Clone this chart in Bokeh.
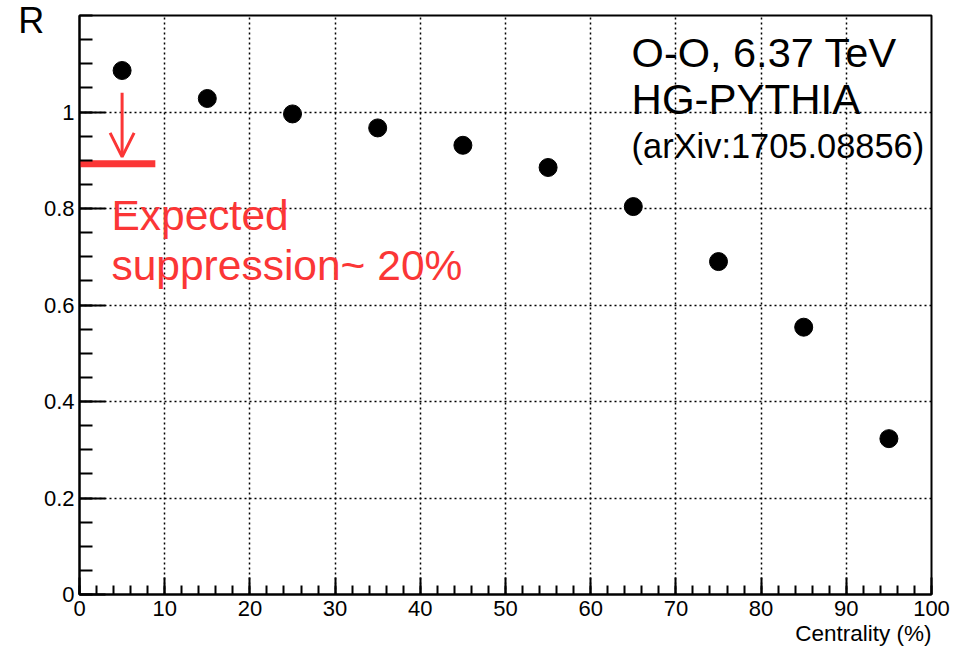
from bokeh.plotting import figure
from bokeh.models import FixedTicker, Label, Arrow, OpenHead, Title
from bokeh.embed import file_html
from bokeh.resources import INLINE

# Nuclear modification factor vs centrality
centrality = [5, 15, 25, 35, 45, 55, 65, 75, 85, 95]
r_values = [1.086, 1.028, 0.996, 0.967, 0.931, 0.885, 0.804, 0.690, 0.554, 0.323]

# Expected suppression level (bar) and arrow from the most central bin
expected_level = 0.893
expected_bar_x = [0, 8.9]
arrow_x = 5
arrow_from = 1.04
arrow_to = 0.907

x_major = [0, 10, 20, 30, 40, 50, 60, 70, 80, 90, 100]
x_minor = [i * 2 for i in range(51)]
y_major = [0, 0.2, 0.4, 0.6, 0.8, 1.0]
y_major_labels = ["0", "0.2", "0.4", "0.6", "0.8", "1"]
y_minor = [round(i * 0.05, 2) for i in range(25)]

FONT = "Liberation Sans"
RED = "#fb3636"

p = figure(width=968, height=649, x_range=(0, 100), y_range=(0, 1.2),
           output_backend="svg", toolbar_location=None,
           min_border_left=79, min_border_right=37,
           min_border_top=15, min_border_bottom=55)
p.background_fill_color = "white"
p.border_fill_color = "white"
p.outline_line_color = "black"
p.outline_line_width = 2

p.xaxis.ticker = FixedTicker(ticks=x_major, minor_ticks=x_minor)
p.yaxis.ticker = FixedTicker(ticks=y_major, minor_ticks=y_minor)
p.yaxis.major_label_overrides = dict(zip(y_major, y_major_labels))

for ax in (p.xaxis, p.yaxis):
    ax.axis_line_width = 2
    ax.axis_line_color = "black"
    ax.major_tick_out = 0
    ax.minor_tick_out = 0
    ax.major_tick_line_width = 2
    ax.minor_tick_line_width = 2
    ax.major_tick_line_color = "black"
    ax.minor_tick_line_color = "black"
    ax.major_label_text_font = FONT
    ax.major_label_text_font_size = "22px"
    ax.major_label_text_color = "black"

p.xaxis.major_tick_in = 17
p.xaxis.minor_tick_in = 9
p.xaxis.major_label_standoff = 6

p.yaxis.major_tick_in = 26
p.yaxis.minor_tick_in = 13
p.yaxis.major_label_standoff = 5

# x title, right-aligned under the end of the axis
p.add_layout(Title(text="Centrality (%)", align="right", text_font=FONT,
                   text_font_size="22.5px", text_font_style="normal",
                   text_color="black", standoff=0, offset=0), "below")

# y title in the left margin, beside the top of the axis
p.add_layout(Label(x=-7.2, y=1.19, text="R", text_font=FONT,
                   text_font_size="36px", text_color="black",
                   text_baseline="alphabetic"), "left")

for g in (p.xgrid, p.ygrid):
    g.grid_line_color = "black"
    g.grid_line_dash = "2 3"
    g.grid_line_width = 1.5

p.scatter(centrality, r_values, size=18, color="black")

p.segment(x0=[expected_bar_x[0]], y0=[expected_level],
          x1=[expected_bar_x[1]], y1=[expected_level],
          line_width=7, line_color=RED)
p.add_layout(Arrow(end=OpenHead(size=24, line_color=RED, line_width=3),
                   x_start=arrow_x, y_start=arrow_from,
                   x_end=arrow_x, y_end=arrow_to,
                   line_color=RED, line_width=3))

def label(x, y, text, size, color="black", align="left"):
    p.add_layout(Label(x=x, y=y, text=text, text_font=FONT,
                       text_font_size=size, text_color=color,
                       text_align=align, text_baseline="alphabetic"))

label(3.75, 0.786, "Expected", "42.5px", RED)
label(3.75, 0.681, "suppression~ 20%", "42.5px", RED)

label(64.8, 1.123, "O-O, 6.37 TeV", "41.5px")
label(64.8, 1.026, "HG-PYTHIA", "42px")
label(64.8, 0.929, "(arXiv:1705.08856)", "34.4px")

open("out.html", "w").write(file_html(p, INLINE))
